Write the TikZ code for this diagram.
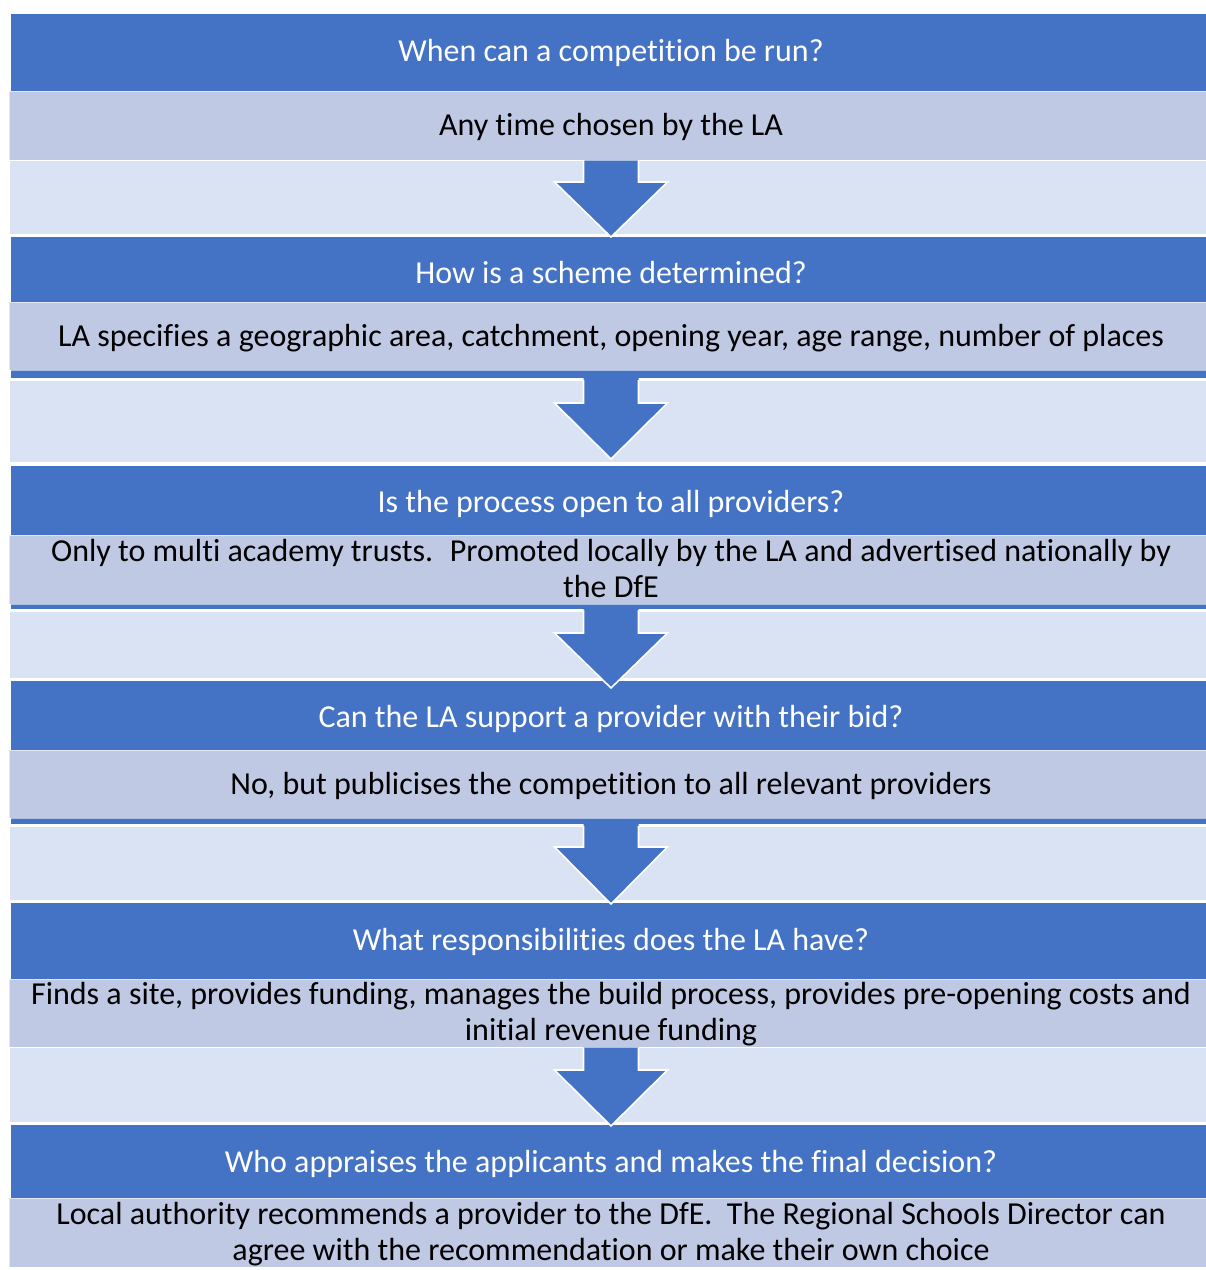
\documentclass[tikz,border=0pt]{standalone}
\usepackage{fontspec}
\setmainfont{Carlito}[Ligatures={NoCommon}]
\definecolor{hblue}{HTML}{4472C4}
\definecolor{peri}{HTML}{C0C9E4}
\definecolor{pale}{HTML}{DAE3F3}
\tikzset{
  hdrbox/.style={fill=hblue, draw=none},
  bodybox/.style={fill=peri, draw=white, draw opacity=0.55, line width=1pt},
  gapbox/.style={fill=pale, draw=none},
  arrowfill/.style={fill=hblue, draw=none},
  arrowedge/.style={draw=white, line width=1.6pt, line join=miter},
  htext/.style={text=white, font=\fontsize{32}{36}\selectfont, anchor=base, inner sep=0pt},
  btext/.style={text=black, font=\fontsize{32}{36}\selectfont, anchor=base, inner sep=0pt, align=center},
}
\begin{document}
\begin{tikzpicture}[x=1pt,y=-1pt]
\useasboundingbox (0,0) rectangle (1206,1270);
% header (blue) bars
\foreach \a/\b in {14/160, 237/378, 466/609, 681/824, 903/1047, 1125/1267}
  \path[hdrbox] (11,\a) rectangle (1206,\b);
% pale gaps
\foreach \a/\b in {161/234, 381/462, 612/678, 827/900, 1048/1122}
  \path[gapbox] (10,\a) rectangle (1206,\b);
% arrows
\foreach \t/\h/\p in {160/182/237, 380/403/459, 610/633/688, 826/847/904, 1048/1070/1126} {
  \path[arrowfill] (583.5,\t-3) -- (638.5,\t-3) -- (638.5,\h) -- (667.5,\h) -- (611,\p) -- (554.5,\h) -- (583.5,\h) -- cycle;
  \draw[arrowedge] (583.5,\t) -- (583.5,\h) -- (554.5,\h) -- (611,\p) -- (667.5,\h) -- (638.5,\h) -- (638.5,\t);
}
% body boxes
\foreach \a/\b in {91/160, 302/370, 535/604, 750/818, 979/1047, 1198/1267}
  \path[bodybox] (9,\a) rectangle (1208,\b);
% header texts
\node[htext] (h1) at (611,61) {When can a competition be run?};
\node[htext] (h2) at (611,283) {How is a scheme determined?};
\node[htext] (h3) at (611,512) {Is the process open to all providers?};
\node[htext] (h4) at (611,727) {Can the LA support a provider with their bid?};
\node[htext] (h5) at (611,950) {What responsibilities does the LA have?};
\node[htext] (h6) at (611,1172) {Who appraises the applicants and makes the final decision?};
% body texts
\node[btext] (b1) at (611,135) {Any time chosen by the LA};
\node[btext] (b2) at (611,346) {LA specifies a geographic area, catchment, opening year, age range, number of places};
\node[btext] (b3) at (611,597) {Only to multi academy trusts.~ Promoted locally by the LA and advertised nationally by\\the DfE};
\node[btext] (b4) at (611,794) {No, but publicises the competition to all relevant providers};
\node[btext] (b5) at (611,1040) {Finds a site, provides funding, manages the build process, provides pre-opening costs and\\initial revenue funding};
\node[btext] (b6) at (611,1260) {Local authority recommends a provider to the DfE.~ The Regional Schools Director can\\agree with the recommendation or make their own choice};
\end{tikzpicture}
\end{document}
